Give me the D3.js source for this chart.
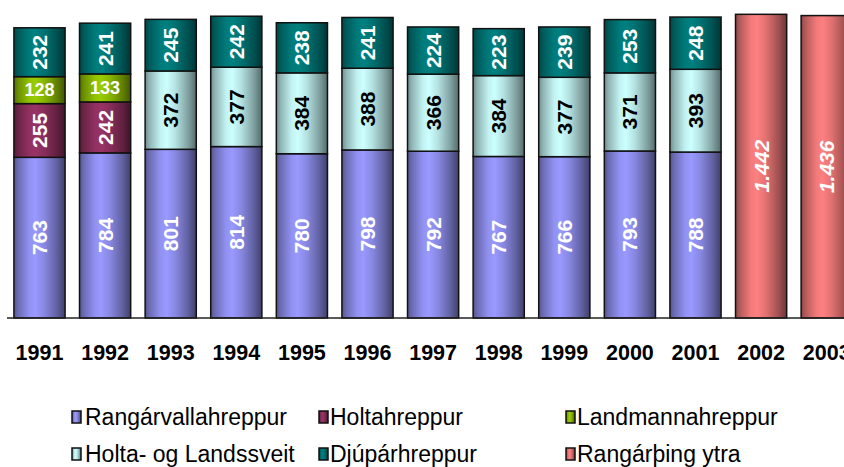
<!doctype html>
<html>
<head>
<meta charset="utf-8">
<script src="https://d3js.org/d3.v7.min.js"></script>
<style>
  body { margin: 0; background: #fff; }
  svg { display: block; font-family: "Liberation Sans", Arial, sans-serif; }
</style>
</head>
<body>
<div id="chart"></div>
<script>
// data
var years = ["1991", "1992", "1993", "1994", "1995", "1996", "1997", "1998", "1999", "2000", "2001", "2002", "2003"];
var seriesNames = ["Rangárvallahreppur", "Holtahreppur", "Landmannahreppur", "Holta- og Landssveit", "Djúpárhreppur", "Rangárþing ytra"];
var rangarvalla = [763, 784, 801, 814, 780, 798, 792, 767, 766, 793, 788, 0, 0];
var holta = [255, 242, 0, 0, 0, 0, 0, 0, 0, 0, 0, 0, 0];
var landmanna = [128, 133, 0, 0, 0, 0, 0, 0, 0, 0, 0, 0, 0];
var holtaLands = [0, 0, 372, 377, 384, 388, 366, 384, 377, 371, 393, 0, 0];
var djupar = [232, 241, 245, 242, 238, 241, 224, 223, 239, 253, 248, 0, 0];
var rangarthing = [0, 0, 0, 0, 0, 0, 0, 0, 0, 0, 0, 1442, 1436];
var colors = ["#9999FF", "#993366", "#99CC00", "#CCFFFF", "#008080", "#FF8080"];

var allSeries = [rangarvalla, holta, landmanna, holtaLands, djupar, rangarthing];
var rows = years.map(function (y, i) {
    var r = { year: y };
    seriesNames.forEach(function (s, k) { r[s] = allSeries[k][i]; });
    return r;
});

var W = 844, H = 467;
var svg = d3.select("#chart").append("svg").attr("width", W).attr("height", H);

// cylinder-like shading
var defs = svg.append("defs");
var shade = [[0, 0.55], [0.08, 0.7], [0.3, 0.95], [0.42, 1.0], [0.6, 0.88], [0.85, 0.62], [1, 0.42]];
colors.forEach(function (c, k) {
    var g = defs.append("linearGradient").attr("id", "grad" + k)
        .attr("x1", "0%").attr("x2", "100%").attr("y1", "0%").attr("y2", "0%");
    var base = d3.rgb(c);
    shade.forEach(function (s) {
        g.append("stop").attr("offset", (s[0] * 100) + "%")
            .attr("stop-color", d3.rgb(base.r * s[1], base.g * s[1], base.b * s[1]).formatHex());
    });
});

var x = d3.scaleBand().domain(years).range([6.7, 859.5]).paddingInner(0.22).paddingOuter(0.11);
var y = d3.scaleLinear().domain([0, 1510]).range([318, 0]);

var stacked = d3.stack().keys(seriesNames)(rows);

var fmt = function (v) { return d3.format(",")(v).replace(/,/g, "."); };

stacked.forEach(function (layer, k) {
    var g = svg.append("g");
    var segs = layer.filter(function (d) { return d[1] - d[0] > 0; });
    g.selectAll("rect").data(segs).enter().append("rect")
        .attr("x", function (d) { return x(d.data.year); })
        .attr("width", x.bandwidth())
        .attr("y", function (d) { return y(d[1]); })
        .attr("height", function (d) { return y(d[0]) - y(d[1]); })
        .attr("fill", "url(#grad" + k + ")")
        .attr("stroke", "#111")
        .attr("stroke-width", 1.5);

    g.selectAll("text").data(segs).enter().append("text")
        .attr("transform", function (d) {
            var cx = x(d.data.year) + x.bandwidth() / 2;
            var cy = (y(d[0]) + y(d[1])) / 2;
            return k == 2 ? "translate(" + cx + "," + cy + ")" : "translate(" + cx + "," + cy + ") rotate(-90)";
        })
        .attr("text-anchor", "middle")
        .attr("dominant-baseline", "central")
        .attr("font-weight", "bold")
        .attr("font-style", k == 5 ? "italic" : "normal")
        .attr("font-size", k == 2 ? "18px" : "21px")
        .attr("fill", k == 3 ? "#000" : "#fff")
        .text(function (d) { return fmt(d[1] - d[0]); });
});

// baseline
svg.append("line").attr("x1", 7).attr("x2", W).attr("y1", y(0)).attr("y2", y(0))
    .attr("stroke", "#222").attr("stroke-width", 1.5);

// year labels (2003 runs off the right edge, as in the original)
svg.selectAll(".yr").data(years).enter().append("text")
    .attr("class", "yr")
    .attr("x", function (d) { return x(d) + x.bandwidth() / 2; })
    .attr("y", 360)
    .attr("text-anchor", "middle")
    .attr("font-weight", "bold")
    .attr("font-size", "21.5px")
    .attr("fill", "#000")
    .text(function (d) { return d; });

// legend
var legX = [72, 319, 566], legY = [411, 448];
var leg = svg.selectAll(".leg").data(seriesNames).enter().append("g")
    .attr("class", "leg")
    .attr("transform", function (d, i) { return "translate(" + legX[i % 3] + "," + legY[Math.floor(i / 3)] + ")"; });
leg.append("rect").attr("width", 9).attr("height", 12)
    .attr("fill", function (d, i) { return "url(#grad" + i + ")"; })
    .attr("stroke", "#111").attr("stroke-width", 1.5);
leg.append("text")
    .attr("x", function (d, i) { return i % 3 == 0 ? 13 : 11; })
    .attr("y", 13.5)
    .attr("font-size", "23px")
    .attr("fill", "#000")
    .text(function (d) { return d; });
</script>
</body>
</html>
